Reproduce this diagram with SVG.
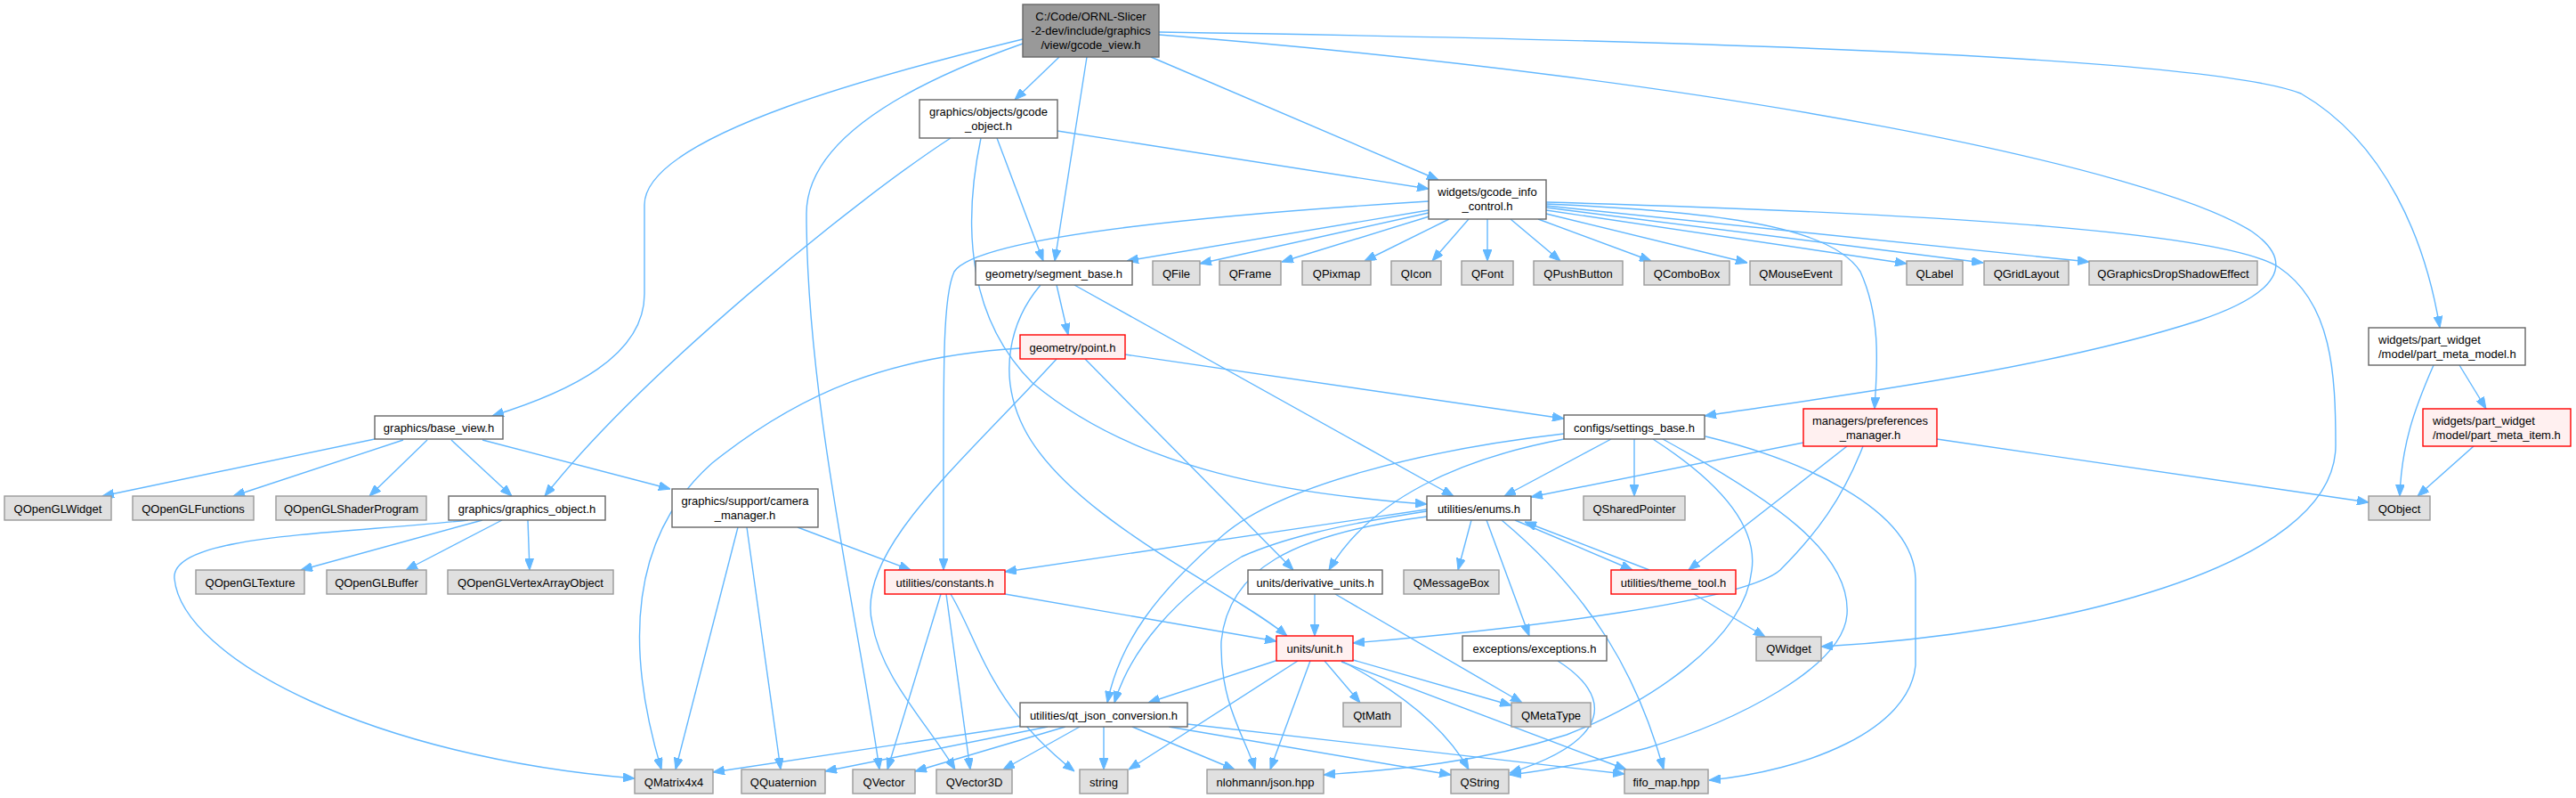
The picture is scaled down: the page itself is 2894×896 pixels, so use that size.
<svg xmlns="http://www.w3.org/2000/svg" width="2894" height="896" viewBox="0 0 2894 896">
<defs>
<marker id="a" markerWidth="13" markerHeight="10" refX="13" refY="5" orient="auto" markerUnits="userSpaceOnUse"><path d="M0,0 L13,5 L0,10 z" fill="#63b8ff" stroke="#63b8ff" stroke-width="1"/></marker>
<style>
.e path{fill:none;stroke:#63b8ff;stroke-width:1.4;marker-end:url(#a)}
.n rect{stroke-width:1.4}
.w rect{fill:#ffffff;stroke:#666666}
.g rect{fill:#e0e0e0;stroke:#999999}
.r rect{fill:#fff0f0;stroke:#ff0000}
.m rect{fill:#999999;stroke:#666666}
text{font-family:"Liberation Sans",Arial,Helvetica,sans-serif;font-size:13px;fill:#000000;text-anchor:middle}
text.l{text-anchor:start}
</style>
</defs>
<rect width="2894" height="896" fill="#ffffff"/>
<g id="edges" class="e">
<path d="M1149,44 C1010,78 724,150 724,230 L724,330 C724,400 640,440 553,467"/>
<path d="M1149,49 C1010,98 906,160 906,240 C906,450 965,700 988,864"/>
<path d="M1190,64 L1140,112"/>
<path d="M1221,64 L1185,293"/>
<path d="M1293,64 L1616,202"/>
<path d="M1302,36 C2100,48 2500,72 2585,105 C2680,160 2725,270 2741,368"/>
<path d="M1302,39 C1950,90 2420,190 2530,260 C2580,295 2560,330 2470,360 C2300,415 2060,445 1915,467"/>
<path d="M421,493 L115,557"/>
<path d="M453,494 L262,557"/>
<path d="M480,494 L415,557"/>
<path d="M507,494 L575,557"/>
<path d="M542,494 L753,549"/>
<path d="M1068,155 C960,225 720,420 612,557"/>
<path d="M1120,155 L1172,293"/>
<path d="M1188,147 L1605,212"/>
<path d="M1102,155 C1080,260 1090,360 1160,430 C1280,530 1450,555 1603,566"/>
<path d="M1605,236 L1266,293"/>
<path d="M1605,239 L1348,296"/>
<path d="M1609,242 L1440,294"/>
<path d="M1628,246 L1533,293"/>
<path d="M1650,246 L1609,293"/>
<path d="M1671,246 L1671,293"/>
<path d="M1697,246 L1753,293"/>
<path d="M1728,246 L1855,293"/>
<path d="M1737,240 L1963,295"/>
<path d="M1737,236 L2142,296"/>
<path d="M1737,233 L2228,295"/>
<path d="M1737,231 L2347,294"/>
<path d="M1605,226 C1300,245 1095,270 1072,305 C1058,335 1060,420 1060,640"/>
<path d="M1737,229 C1950,238 2060,258 2090,305 C2115,360 2108,420 2106,459"/>
<path d="M1737,227 C2200,240 2500,262 2560,300 C2620,340 2624,420 2624,500 C2624,640 2300,712 2046,726"/>
<path d="M1187,320 L1200,376"/>
<path d="M1207,320 L1633,557"/>
<path d="M1169,320 C1135,360 1120,420 1150,480 C1200,580 1380,660 1446,714"/>
<path d="M1146,391 C1000,400 900,440 800,520 C710,600 700,720 743,864"/>
<path d="M1264,398 L1757,470"/>
<path d="M1219,403 L1453,640"/>
<path d="M1187,403 C1080,520 960,620 980,700 C990,760 1040,810 1073,864"/>
<path d="M542,584 L338,640"/>
<path d="M564,584 L456,640"/>
<path d="M593,584 L595,640"/>
<path d="M526,584 C380,600 190,600 196,650 C205,740 420,850 713,874"/>
<path d="M829,592 L759,864"/>
<path d="M839,592 L877,864"/>
<path d="M896,592 L1023,640"/>
<path d="M1757,487 C1600,505 1440,545 1375,600 C1300,665 1258,720 1244,789"/>
<path d="M1757,493 C1640,515 1540,560 1493,640"/>
<path d="M1810,493 L1690,557"/>
<path d="M1836,493 L1836,557"/>
<path d="M1857,493 C1930,540 1975,590 1968,640 C1960,720 1850,790 1760,825 C1650,860 1550,865 1487,870"/>
<path d="M1868,493 C1990,560 2080,620 2075,690 C2070,750 1950,810 1850,840 C1780,858 1730,866 1696,870"/>
<path d="M1916,490 C2020,515 2150,570 2152,650 L2152,747 C2145,820 2030,865 1920,876"/>
<path d="M1603,572 L1129,642"/>
<path d="M1603,574 C1500,590 1440,605 1395,625 C1320,670 1270,730 1252,789"/>
<path d="M1603,580 C1450,600 1380,640 1372,720 C1370,790 1400,830 1410,864"/>
<path d="M1653,584 L1638,640"/>
<path d="M1670,584 L1718,714"/>
<path d="M1687,584 C1790,670 1840,760 1869,864"/>
<path d="M1702,584 L1834,640"/>
<path d="M1853,640 L1713,586"/>
<path d="M1903,667 L1983,715"/>
<path d="M2026,497 L1720,558"/>
<path d="M2176,493 L2661,564"/>
<path d="M2075,501 L1897,640"/>
<path d="M2093,501 C2070,560 2040,600 2000,640 C1960,675 1720,705 1520,722"/>
<path d="M2734,410 C2712,460 2698,500 2696,557"/>
<path d="M2763,410 L2793,459"/>
<path d="M2779,501 L2716,557"/>
<path d="M1129,667 L1434,720"/>
<path d="M1057,667 L997,864"/>
<path d="M1063,667 L1090,864"/>
<path d="M1068,667 C1100,720 1110,790 1207,866"/>
<path d="M1477,667 L1477,714"/>
<path d="M1500,667 L1710,789"/>
<path d="M1436,741 L1290,789"/>
<path d="M1458,742 L1268,864"/>
<path d="M1472,742 L1427,864"/>
<path d="M1488,742 L1528,789"/>
<path d="M1520,741 L1698,792"/>
<path d="M1507,742 C1560,770 1620,810 1650,864"/>
<path d="M1507,743 L1827,864"/>
<path d="M1750,742 C1810,780 1815,830 1696,868"/>
<path d="M1147,815 L801,867"/>
<path d="M1177,816 L927,866"/>
<path d="M1197,816 L1028,866"/>
<path d="M1213,816 L1127,864"/>
<path d="M1240,816 L1240,864"/>
<path d="M1272,816 L1387,864"/>
<path d="M1313,816 L1630,870"/>
<path d="M1334,813 L1825,869"/>
</g>
<g id="main" class="n m"><rect x="1149" y="5" width="153" height="59"/><text x="1225.5" y="23">C:/Code/ORNL-Slicer</text><text x="1225.5" y="39">-2-dev/include/graphics</text><text x="1225.5" y="55">/view/gcode_view.h</text></g>
<g id="gcode_object" class="n w"><rect x="1033" y="112" width="155" height="43"/><text x="1110.5" y="130">graphics/objects/gcode</text><text x="1110.5" y="146">_object.h</text></g>
<g id="gcode_info" class="n w"><rect x="1605" y="202" width="132" height="44"/><text x="1671" y="220">widgets/gcode_info</text><text x="1671" y="236">_control.h</text></g>
<g id="segment_base" class="n w"><rect x="1096" y="293" width="176" height="27"/><text x="1184" y="311.5">geometry/segment_base.h</text></g>
<g id="QFile" class="n g"><rect x="1295" y="293" width="53" height="27"/><text x="1321.5" y="311.5">QFile</text></g>
<g id="QFrame" class="n g"><rect x="1370" y="293" width="69" height="27"/><text x="1404.5" y="311.5">QFrame</text></g>
<g id="QPixmap" class="n g"><rect x="1463" y="293" width="77" height="27"/><text x="1501.5" y="311.5">QPixmap</text></g>
<g id="QIcon" class="n g"><rect x="1563" y="293" width="56" height="27"/><text x="1591" y="311.5">QIcon</text></g>
<g id="QFont" class="n g"><rect x="1642" y="293" width="58" height="27"/><text x="1671" y="311.5">QFont</text></g>
<g id="QPushButton" class="n g"><rect x="1723" y="293" width="100" height="27"/><text x="1773" y="311.5">QPushButton</text></g>
<g id="QComboBox" class="n g"><rect x="1847" y="293" width="96" height="27"/><text x="1895" y="311.5">QComboBox</text></g>
<g id="QMouseEvent" class="n g"><rect x="1966" y="293" width="103" height="27"/><text x="2017.5" y="311.5">QMouseEvent</text></g>
<g id="QLabel" class="n g"><rect x="2142" y="293" width="63" height="27"/><text x="2173.5" y="311.5">QLabel</text></g>
<g id="QGridLayout" class="n g"><rect x="2229" y="293" width="95" height="27"/><text x="2276.5" y="311.5">QGridLayout</text></g>
<g id="QGraphicsDropShadowEffect" class="n g"><rect x="2347" y="293" width="189" height="27"/><text x="2441.5" y="311.5">QGraphicsDropShadowEffect</text></g>
<g id="part_meta_model" class="n w"><rect x="2661" y="368" width="176" height="42"/><text class="l" x="2672" y="386">widgets/part_widget</text><text class="l" x="2672" y="402">/model/part_meta_model.h</text></g>
<g id="point" class="n r"><rect x="1146" y="376" width="118" height="27"/><text x="1205" y="394.5">geometry/point.h</text></g>
<g id="base_view" class="n w"><rect x="421" y="467" width="144" height="26"/><text x="493" y="485">graphics/base_view.h</text></g>
<g id="settings_base" class="n w"><rect x="1757" y="466" width="158" height="27"/><text x="1836" y="484.5">configs/settings_base.h</text></g>
<g id="preferences_manager" class="n r"><rect x="2026" y="459" width="150" height="42"/><text x="2101" y="477">managers/preferences</text><text x="2101" y="493">_manager.h</text></g>
<g id="part_meta_item" class="n r"><rect x="2722" y="459" width="166" height="42"/><text class="l" x="2733" y="477">widgets/part_widget</text><text class="l" x="2733" y="493">/model/part_meta_item.h</text></g>
<g id="QOpenGLWidget" class="n g"><rect x="5" y="557" width="120" height="27"/><text x="65" y="575.5">QOpenGLWidget</text></g>
<g id="QOpenGLFunctions" class="n g"><rect x="149" y="557" width="136" height="27"/><text x="217" y="575.5">QOpenGLFunctions</text></g>
<g id="QOpenGLShaderProgram" class="n g"><rect x="310" y="557" width="169" height="27"/><text x="394.5" y="575.5">QOpenGLShaderProgram</text></g>
<g id="graphics_object" class="n w"><rect x="504" y="557" width="176" height="27"/><text x="592" y="575.5">graphics/graphics_object.h</text></g>
<g id="camera_manager" class="n w"><rect x="755" y="549" width="164" height="43"/><text x="837" y="567">graphics/support/camera</text><text x="837" y="583">_manager.h</text></g>
<g id="enums" class="n w"><rect x="1603" y="557" width="117" height="27"/><text x="1661.5" y="575.5">utilities/enums.h</text></g>
<g id="QSharedPointer" class="n g"><rect x="1779" y="557" width="114" height="27"/><text x="1836" y="575.5">QSharedPointer</text></g>
<g id="QObject" class="n g"><rect x="2661" y="557" width="69" height="27"/><text x="2695.5" y="575.5">QObject</text></g>
<g id="QOpenGLTexture" class="n g"><rect x="220" y="640" width="122" height="27"/><text x="281" y="658.5">QOpenGLTexture</text></g>
<g id="QOpenGLBuffer" class="n g"><rect x="367" y="640" width="112" height="27"/><text x="423" y="658.5">QOpenGLBuffer</text></g>
<g id="QOpenGLVertexArrayObject" class="n g"><rect x="503" y="640" width="186" height="27"/><text x="596" y="658.5">QOpenGLVertexArrayObject</text></g>
<g id="constants" class="n r"><rect x="994" y="640" width="135" height="27"/><text x="1061.5" y="658.5">utilities/constants.h</text></g>
<g id="derivative_units" class="n w"><rect x="1402" y="640" width="151" height="27"/><text x="1477.5" y="658.5">units/derivative_units.h</text></g>
<g id="QMessageBox" class="n g"><rect x="1577" y="640" width="107" height="27"/><text x="1630.5" y="658.5">QMessageBox</text></g>
<g id="theme_tool" class="n r"><rect x="1810" y="640" width="140" height="27"/><text x="1880" y="658.5">utilities/theme_tool.h</text></g>
<g id="unit" class="n r"><rect x="1434" y="714" width="86" height="28"/><text x="1477" y="733">units/unit.h</text></g>
<g id="exceptions" class="n w"><rect x="1643" y="714" width="162" height="28"/><text x="1724" y="733">exceptions/exceptions.h</text></g>
<g id="QWidget" class="n g"><rect x="1973" y="715" width="73" height="27"/><text x="2009.5" y="733">QWidget</text></g>
<g id="qt_json_conversion" class="n w"><rect x="1146" y="789" width="188" height="27"/><text x="1240" y="807.5">utilities/qt_json_conversion.h</text></g>
<g id="QtMath" class="n g"><rect x="1509" y="789" width="65" height="27"/><text x="1541.5" y="807.5">QtMath</text></g>
<g id="QMetaType" class="n g"><rect x="1698" y="789" width="89" height="27"/><text x="1742.5" y="807.5">QMetaType</text></g>
<g id="QMatrix4x4" class="n g"><rect x="713" y="864" width="88" height="27"/><text x="757" y="882.5">QMatrix4x4</text></g>
<g id="QQuaternion" class="n g"><rect x="833" y="864" width="94" height="27"/><text x="880" y="882.5">QQuaternion</text></g>
<g id="QVector" class="n g"><rect x="958" y="864" width="70" height="27"/><text x="993" y="882.5">QVector</text></g>
<g id="QVector3D" class="n g"><rect x="1052" y="864" width="85" height="27"/><text x="1094.5" y="882.5">QVector3D</text></g>
<g id="string" class="n g"><rect x="1213" y="864" width="54" height="27"/><text x="1240" y="882.5">string</text></g>
<g id="nlohmann_json" class="n g"><rect x="1356" y="864" width="131" height="27"/><text x="1421.5" y="882.5">nlohmann/json.hpp</text></g>
<g id="QString" class="n g"><rect x="1630" y="864" width="65" height="27"/><text x="1662.5" y="882.5">QString</text></g>
<g id="fifo_map" class="n g"><rect x="1825" y="864" width="94" height="27"/><text x="1872" y="882.5">fifo_map.hpp</text></g>
</svg>
